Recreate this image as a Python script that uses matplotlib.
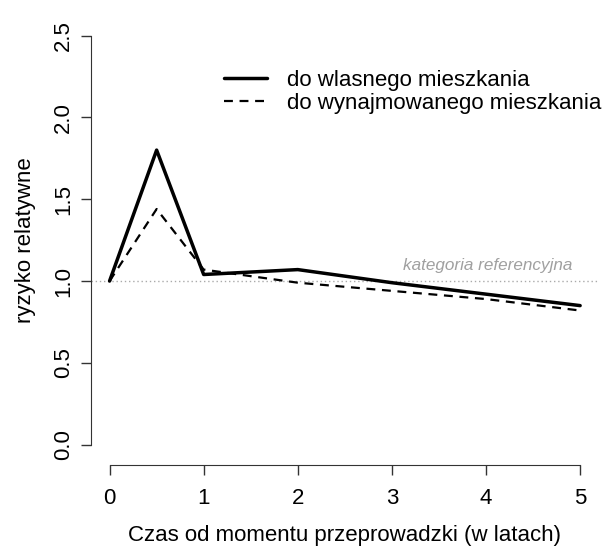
import matplotlib
matplotlib.use("Agg")
import matplotlib.pyplot as plt

plt.rcParams['font.family'] = ['Liberation Sans', 'DejaVu Sans']

# czas od przeprowadzki (lata)
czas = [0, 0.5, 1, 2, 3, 4, 5]
wlasne = [1.0, 1.80, 1.04, 1.07, 0.99, 0.92, 0.85]
wynajmowane = [1.0, 1.44, 1.07, 0.99, 0.94, 0.89, 0.82]

x_ticks = [0, 1, 2, 3, 4, 5]
y_ticks = [0.0, 0.5, 1.0, 1.5, 2.0, 2.5]

fig = plt.figure(figsize=(6.05, 5.47), dpi=100)
ax = fig.add_axes([0.150, 0.157, 0.840, 0.808])

ax.axhline(1.0, color='#aaaaaa', lw=1, ls=(0, (1, 2)))
ax.plot(czas, wlasne, color='black', lw=2.5, solid_capstyle='round',
        solid_joinstyle='round', label='do wlasnego mieszkania')
ax.plot(czas, wynajmowane, color='black', lw=1.6, ls=(0, (4, 3)),
        dash_capstyle='butt', label='do wynajmowanego mieszkania')

ax.text(4.92, 1.05, 'kategoria referencyjna', color='#a0a0a0',
        style='italic', fontsize=12.3, ha='right', va='bottom')

ax.set_xlim(-0.2, 5.2)
ax.set_ylim(-0.1, 2.6)
ax.set_xticks(x_ticks)
ax.set_xticklabels([str(t) for t in x_ticks])
ax.set_yticks(y_ticks)
ax.set_yticklabels(['%.1f' % t for t in y_ticks], rotation=90, va='center')

for s in ['top', 'right']:
    ax.spines[s].set_visible(False)
ax.spines['left'].set_bounds(0, 2.5)
ax.spines['bottom'].set_bounds(0, 5)
ax.spines['bottom'].set_position(('outward', 3))
ax.spines['left'].set_color('#333333')
ax.spines['bottom'].set_color('#333333')
ax.tick_params(length=7, width=1, colors='#333333', labelcolor='black',
               labelsize=16)
ax.tick_params(axis='x', pad=9)
ax.tick_params(axis='y', pad=5)

ax.set_xlabel('Czas od momentu przeprowadzki (w latach)', fontsize=16, labelpad=12)
ax.set_ylabel('ryzyko relatywne', fontsize=16, labelpad=12)

leg = ax.legend(loc='upper left', bbox_to_anchor=(0.245, 0.905), frameon=False,
                fontsize=16, handlelength=1.95, handletextpad=0.9,
                labelspacing=0.1, borderaxespad=0)

fig.savefig('out.png', dpi=100)
